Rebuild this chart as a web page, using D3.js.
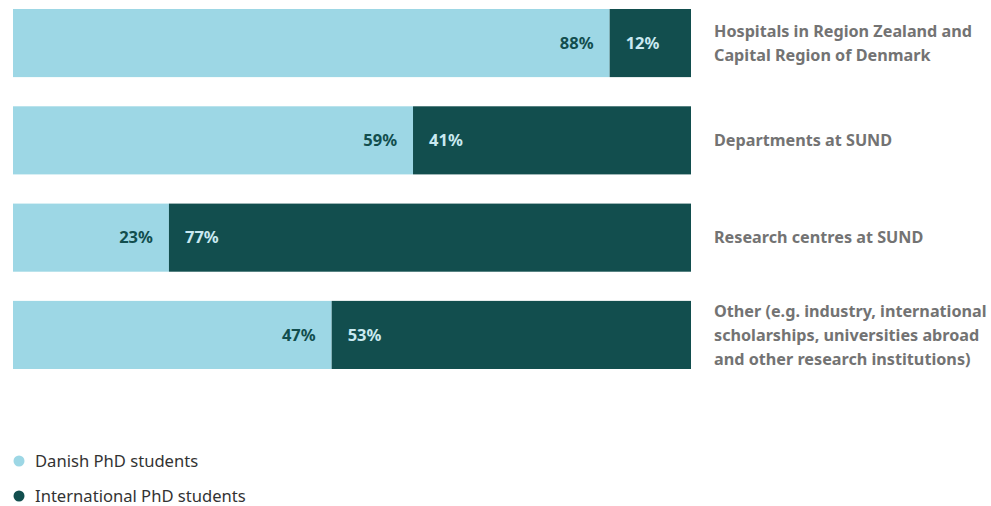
<!DOCTYPE html>
<html>
<head>
<meta charset="utf-8">
<script src="https://cdn.jsdelivr.net/npm/d3@7"></script>
<style>
  body { margin: 0; background: #fff; }
  text { font-family: "Noto Sans", "Open Sans", sans-serif; }
</style>
</head>
<body>
<div id="chart"></div>
<script>
// data
const categories = [
  ["Hospitals in Region Zealand and", "Capital Region of Denmark"],
  ["Departments at SUND"],
  ["Research centres at SUND"],
  ["Other (e.g. industry, international", "scholarships, universities abroad", "and other research institutions)"]
];
const danish = [88, 59, 23, 47];
const international = [12, 41, 77, 53];
const seriesNames = ["Danish PhD students", "International PhD students"];
const colours = ["#9dd7e5", "#124e4e"];

const W = 991, H = 506;

const svg = d3.select("#chart").append("svg")
  .attr("width", W).attr("height", H);

const x = d3.scaleLinear().domain([0, 100]).range([13, 691]);
const y = d3.scaleBand().domain(d3.range(categories.length))
  .range([9, 369]).paddingInner(0.3).paddingOuter(0);

const rows = svg.selectAll(".row")
  .data(categories.map((c, i) => ({ i: i, label: c, d: danish[i], n: international[i] })))
  .enter().append("g")
  .attr("class", "row")
  .attr("transform", d => "translate(0," + y(d.i) + ")");

const bh = y.bandwidth();

// danish part
rows.append("rect")
  .attr("x", x(0)).attr("y", 0)
  .attr("width", d => x(d.d) - x(0)).attr("height", bh)
  .style("fill", colours[0]);

// international part
rows.append("rect")
  .attr("x", d => x(d.d)).attr("y", 0)
  .attr("width", d => x(d.d + d.n) - x(d.d)).attr("height", bh)
  .style("fill", colours[1]);

rows.append("text")
  .attr("x", d => x(d.d) - 16).attr("y", bh / 2)
  .attr("dy", "0.35em").attr("text-anchor", "end")
  .style("font-size", "16.5px").style("font-weight", "bold")
  .style("fill", colours[1])
  .text(d => d.d + "%");

rows.append("text")
  .attr("x", d => x(d.d) + 16).attr("y", bh / 2)
  .attr("dy", "0.35em")
  .style("font-size", "16.5px").style("font-weight", "bold")
  .style("fill", "#c9e9f1")
  .text(d => d.n + "%");

// category labels
rows.each(function(d) {
  const lines = d.label;
  const t = d3.select(this).append("text")
    .attr("x", 714)
    .style("font-size", "16.2px").style("font-weight", "bold")
    .style("fill", "#737373");
  lines.forEach((l, k) => {
    t.append("tspan")
      .attr("x", 714)
      .attr("y", bh / 2 + (k - (lines.length - 1) / 2) * 24)
      .attr("dy", "0.35em")
      .text(l);
  });
});

// legend
const legend = svg.selectAll(".legend")
  .data(seriesNames)
  .enter().append("g")
  .attr("class", "legend")
  .attr("transform", (d, i) => "translate(19," + (461 + i * 35) + ")");

legend.append("circle")
  .attr("r", 5.5)
  .style("fill", (d, i) => colours[i]);

legend.append("text")
  .attr("x", 16).attr("dy", "0.35em")
  .style("font-size", "16.6px")
  .style("fill", "#333")
  .text(d => d);
</script>
</body>
</html>
